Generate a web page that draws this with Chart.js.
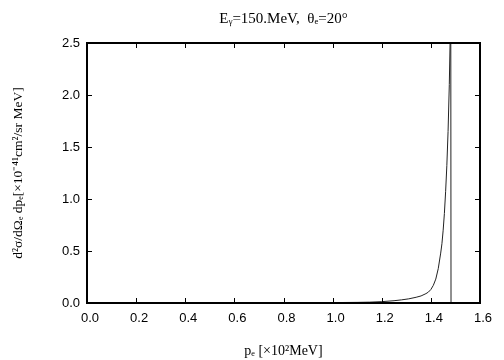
<!DOCTYPE html>
<html>
<head>
<meta charset="utf-8">
<script src="https://cdn.jsdelivr.net/npm/chart.js@4/dist/chart.umd.min.js"></script>
<style>
  html, body { margin: 0; padding: 0; background: #fff; }
  #wrap { width: 504px; height: 360px; }
</style>
</head>
<body>
<div id="wrap"><canvas id="c" width="504" height="360"></canvas></div>
<script>
// Data
const pe = [0.0, 0.2, 0.4, 0.6, 0.8, 1.0, 1.1, 1.15, 1.2, 1.25, 1.28, 1.31, 1.34, 1.36, 1.38, 1.39, 1.40, 1.41, 1.42, 1.43, 1.44, 1.445, 1.45, 1.455, 1.46, 1.465, 1.47, 1.475, 1.479, 1.481, 1.482];
const sigma = [0, 0.0002, 0.0005, 0.001, 0.002, 0.004, 0.006, 0.008, 0.013, 0.022, 0.03, 0.04, 0.055, 0.068, 0.09, 0.105, 0.13, 0.17, 0.23, 0.33, 0.48, 0.57, 0.7, 0.86, 1.07, 1.32, 1.65, 2.1, 2.6, 3.0, 0];
const xTicks = [0.0, 0.2, 0.4, 0.6, 0.8, 1.0, 1.2, 1.4, 1.6];
const yTicks = [0.0, 0.5, 1.0, 1.5, 2.0, 2.5];
const chartTitle = 'Eᵧ=150.MeV,  θₑ=20°';
const xTitle = 'pₑ [×10²MeV]';
const yTitle = 'd²σ/dΩₑ dpₑ[×10⁻⁴¹cm²/sr MeV]';

const points = pe.map((x, i) => ({ x: x, y: sigma[i] }));

const frameTicks = {
  id: 'frameTicks',
  afterDraw(chart) {
    const { ctx, chartArea: a, scales } = chart;
    ctx.save();
    ctx.strokeStyle = '#000';
    ctx.lineWidth = 1;
    const L = 5;
    ctx.beginPath();
    xTicks.forEach(v => {
      const px = Math.round(scales.x.getPixelForValue(v)) + 0.5;
      ctx.moveTo(px, a.bottom); ctx.lineTo(px, a.bottom - L);
      ctx.moveTo(px, a.top); ctx.lineTo(px, a.top + L);
    });
    yTicks.forEach(v => {
      const py = Math.round(scales.y.getPixelForValue(v)) + 0.5;
      ctx.moveTo(a.left, py); ctx.lineTo(a.left + L, py);
      ctx.moveTo(a.right, py); ctx.lineTo(a.right - L, py);
    });
    ctx.stroke();
    ctx.lineWidth = 2;
    ctx.strokeRect(a.left, a.top, a.right - a.left, a.bottom - a.top);
    ctx.restore();
  }
};

const tickFont = { family: '"Liberation Sans", Arial, sans-serif', size: 13 };
const serifT = { family: '"Liberation Serif", "Times New Roman", serif', size: 15 };
const serifX = { family: '"Liberation Serif", "Times New Roman", serif', size: 14 };
const serifY = { family: '"Liberation Serif", "Times New Roman", serif', size: 13.5 };

new Chart(document.getElementById('c'), {
  type: 'line',
  data: {
    datasets: [{
      data: points,
      borderColor: '#222',
      borderWidth: 1,
      pointRadius: 0,
      tension: 0,
      fill: false
    }]
  },
  options: {
    responsive: false,
    animation: false,
    devicePixelRatio: 1,
    layout: { padding: { left: 0, right: 24, top: 0, bottom: 0 } },
    plugins: { legend: { display: false }, tooltip: { enabled: false }, title: { display: false } },
    scales: {
      x: {
        type: 'linear', position: 'bottom', min: 0, max: 1.6,
        afterBuildTicks: s => { s.ticks = xTicks.map(v => ({ value: v })); },
        afterFit: s => { s.height = 57; },
        grid: { display: false, drawTicks: false },
        border: { display: false },
        ticks: { color: '#000', font: tickFont, padding: 8, maxRotation: 0, labelOffset: 3,
                 callback: v => v.toFixed(1) },
        title: { display: true, text: xTitle, color: '#000', font: serifX, padding: { top: 0, bottom: 0 } }
      },
      x2: {
        type: 'linear', position: 'top', min: 0, max: 1.6,
        afterFit: s => { s.height = 43; },
        grid: { display: false, drawTicks: false },
        border: { display: false },
        ticks: { display: false },
        title: { display: true, text: chartTitle, color: '#000', font: serifT, padding: { top: 10, bottom: 0 } }
      },
      y: {
        type: 'linear', position: 'left', min: 0, max: 2.5,
        afterBuildTicks: s => { s.ticks = yTicks.map(v => ({ value: v })); },
        afterFit: s => { s.width = 87; },
        grid: { display: false, drawTicks: false },
        border: { display: false },
        ticks: { color: '#000', font: tickFont, padding: 7, callback: v => v.toFixed(1) },
        title: { display: true, text: yTitle, color: '#000', font: serifY, padding: { top: 10, bottom: 0 } }
      }
    }
  },
  plugins: [frameTicks]
});
</script>
</body>
</html>
